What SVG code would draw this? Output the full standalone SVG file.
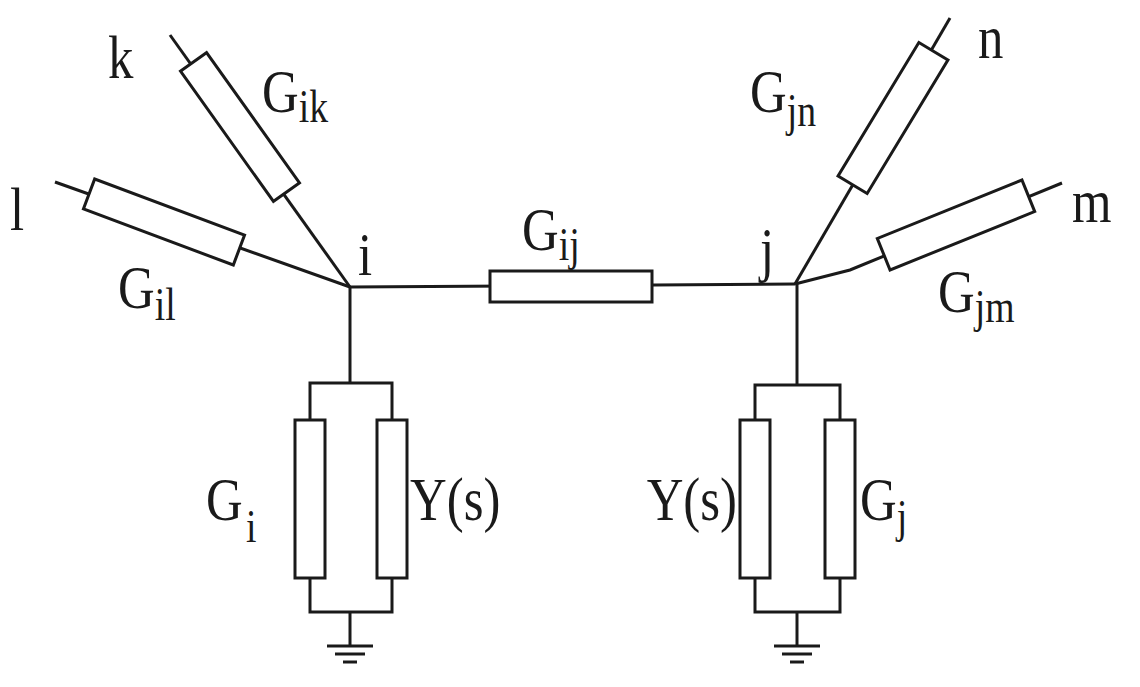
<svg xmlns="http://www.w3.org/2000/svg" width="1140" height="687" viewBox="0 0 1140 687">
<style>
.w{fill:none;stroke:#1a1a1a;stroke-width:3}
.r{fill:#fff;stroke:#1a1a1a;stroke-width:3}
text{font-family:"Liberation Serif",serif;fill:#1a1a1a;font-size:62px}
.s{font-size:46px}
</style>
<rect width="1140" height="687" fill="#fff"/>
<g id="connectors">
<line class="w" x1="350" y1="287" x2="795" y2="284"/>
<line class="w" x1="350" y1="287" x2="170" y2="35"/>
<line class="w" x1="350" y1="287" x2="55" y2="182"/>
<line class="w" x1="795" y1="284" x2="950" y2="18"/>
<polyline class="w" points="795,284 850,270 1062,183"/>
<polyline class="w" points="350,287 350,383"/>
<polyline class="w" points="310,420 310,383 392,383 392,420"/>
<polyline class="w" points="310,578 310,612 392,612 392,578"/>
<line class="w" x1="350" y1="612" x2="350" y2="645"/>
<polyline class="w" points="797,284 797,385"/>
<polyline class="w" points="755,420 755,385 840,385 840,420"/>
<polyline class="w" points="755,578 755,612 840,612 840,578"/>
<line class="w" x1="797" y1="612" x2="797" y2="645"/>
</g>
<g id="ground-i"><line class="w" x1="327" y1="646" x2="373" y2="646"/><line class="w" x1="335" y1="654" x2="365" y2="654"/><line class="w" x1="343" y1="662" x2="357" y2="662"/></g>
<g id="ground-j"><line class="w" x1="774" y1="646" x2="820" y2="646"/><line class="w" x1="782" y1="654" x2="812" y2="654"/><line class="w" x1="790" y1="662" x2="804" y2="662"/></g>
<g id="Gik"><rect class="r" x="-80" y="-16" width="160" height="32" transform="translate(240,127) rotate(54.5)"/><text transform="translate(262,112) scale(0.82,1)">G<tspan class="s" dy="10">ik</tspan></text><text transform="translate(108,78) scale(0.82,1)">k</text></g>
<g id="Gil"><rect class="r" x="-80" y="-16" width="160" height="32" transform="translate(164,222) rotate(20.5)"/><text transform="translate(118,308) scale(0.82,1)">G<tspan class="s" dy="12">il</tspan></text><text transform="translate(10,230) scale(0.82,1)">l</text></g>
<g id="Gij"><rect class="r" x="490" y="271" width="162" height="31"/><text transform="translate(522,250) scale(0.82,1)">G<tspan class="s" dy="10">ij</tspan></text></g>
<g id="Gjn"><rect class="r" x="-78" y="-17" width="156" height="34" transform="translate(893,118) rotate(-58.8)"/><text transform="translate(750,112) scale(0.82,1)">G<tspan class="s" dy="14">jn</tspan></text><text transform="translate(978,58) scale(0.82,1)">n</text></g>
<g id="Gjm"><rect class="r" x="-78" y="-17" width="156" height="34" transform="translate(956,225) rotate(-22)"/><text transform="translate(938,312) scale(0.82,1)">G<tspan class="s" dy="10">jm</tspan></text><text transform="translate(1072,222) scale(0.82,1)">m</text></g>
<g id="node-i"><text transform="translate(358,275) scale(0.82,1)">i</text></g>
<g id="node-j"><text transform="translate(760,270) scale(0.82,1)">j</text></g>
<g id="Gi"><rect class="r" x="295" y="420" width="30" height="158"/><text transform="translate(206,520) scale(0.82,1)">G<tspan class="s" dx="4" dy="22">i</tspan></text></g>
<g id="Ysi"><rect class="r" x="377" y="420" width="30" height="158"/><text transform="translate(410,520) scale(0.82,1)">Y(s)</text></g>
<g id="Ysj"><rect class="r" x="740" y="420" width="30" height="158"/><text transform="translate(737,520) scale(0.82,1)" text-anchor="end">Y(s)</text></g>
<g id="Gj"><rect class="r" x="825" y="420" width="30" height="158"/><text transform="translate(860,520) scale(0.82,1)">G<tspan class="s" dy="12">j</tspan></text></g>
</svg>
